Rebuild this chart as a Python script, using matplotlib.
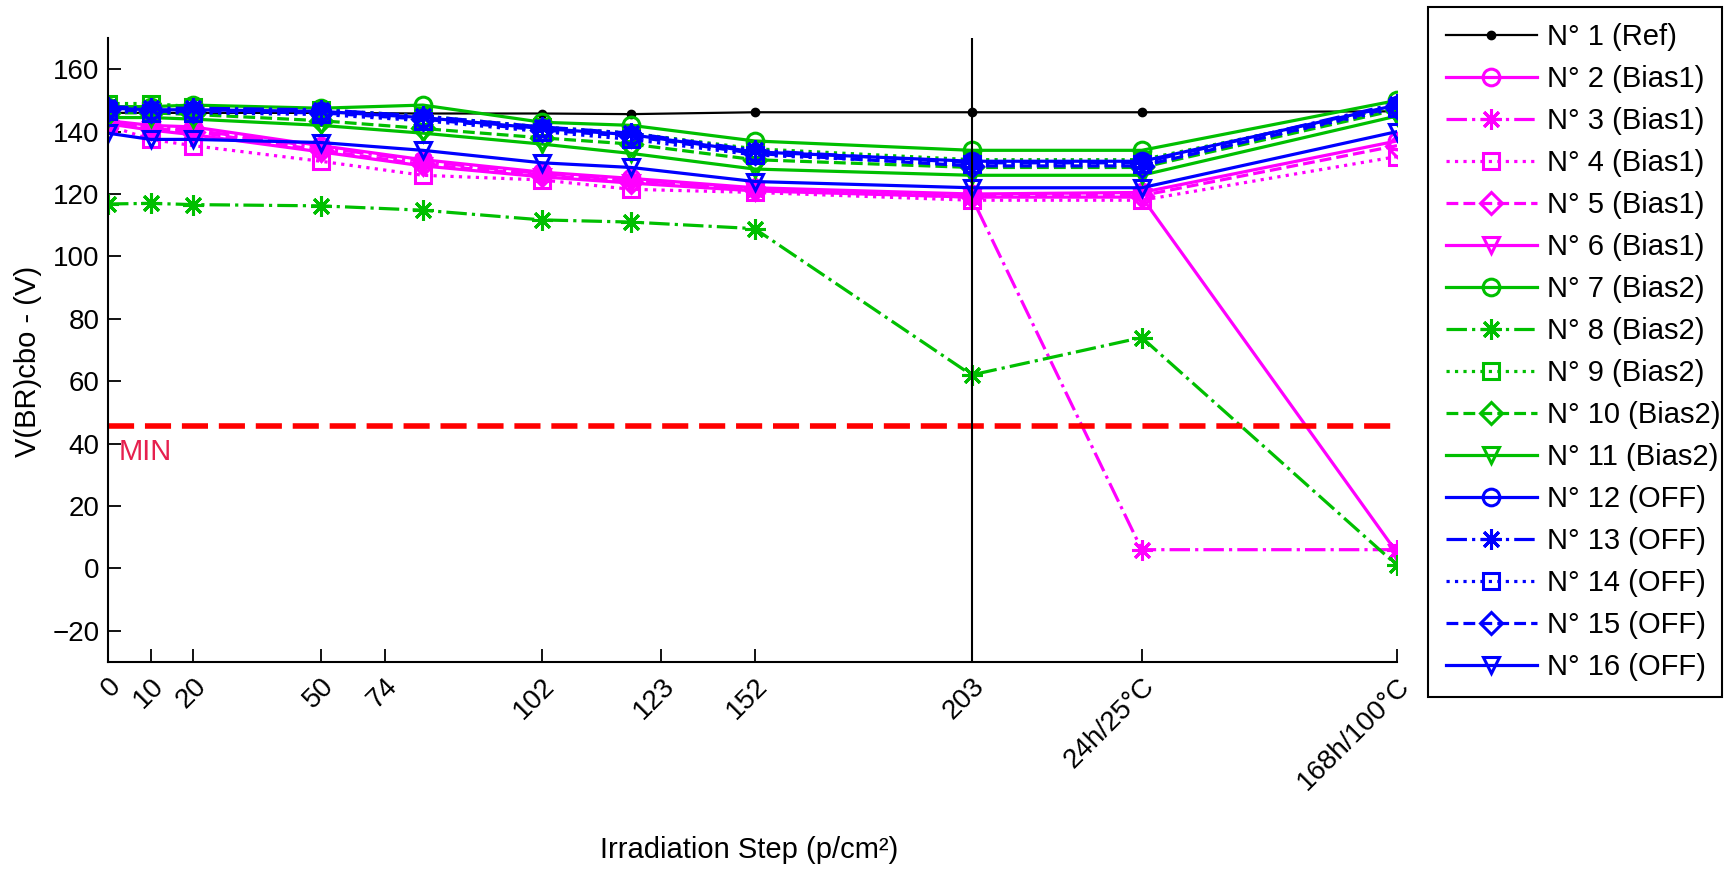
import matplotlib
matplotlib.use("Agg")
import matplotlib.pyplot as plt
from matplotlib.patches import Rectangle

plt.rcParams['font.family'] = ['Liberation Sans', 'DejaVu Sans']

# ---------------- data ----------------
step_labels = ['0', '10', '20', '50', '74', '102', '123', '152', '203',
               '24h/25°C', '168h/100°C']
x_pos = [0, 10, 20, 50, 74, 102, 123, 152, 203, 243, 303]      # where points sit
tick_pos = [0, 10, 20, 50, 65, 102, 130, 152, 203, 243, 303]   # where labels sit

n01 = [146, 146, 146, 146, 145.8, 145.8, 145.6, 146.2, 146.2, 146.2, 146.5]
n02 = [143.5, 142, 141.5, 135.5, 131, 127, 125, 122, 120, 120.5, 137]
n03 = [143, 141.5, 140.5, 135, 130.5, 126.5, 124.5, 121.5, 119, 6, 6]
n04 = [142, 137.5, 135.5, 130.5, 126, 124.5, 121.5, 120.5, 118, 118, 132]
n05 = [143, 141, 140, 134, 129.5, 126, 124, 121.5, 119.5, 119.5, 135.5]
n06 = [142.5, 140.5, 139, 133.5, 129, 125.5, 123.5, 121, 119, 119, 5]
n07 = [148, 148, 148.5, 147.5, 148.5, 143, 142, 137, 134, 134, 150]
n08 = [116.8, 117, 116.6, 116.2, 114.8, 111.7, 111.0, 108.9, 62, 74, 1]
n09 = [149, 149, 148, 147, 145, 141.5, 139.5, 134.5, 131, 131, 148]
n10 = [146, 146, 145.5, 143.5, 141, 138, 136, 131, 128.5, 128.5, 147]
n11 = [144.5, 144.5, 144, 142, 139.5, 136, 133, 128, 126, 126, 145]
n12 = [147.5, 147, 147, 146.5, 144.5, 141, 139, 133.5, 130.5, 130.5, 148.5]
n13 = [148, 147.5, 147.5, 147, 145, 141.5, 139.5, 134, 130, 130, 149]
n14 = [146.5, 146, 146, 145.5, 143.5, 140, 137.5, 132.5, 129.5, 129.5, 147.5]
n15 = [147, 146.5, 146.5, 146, 144, 140.5, 138.5, 133, 129, 129, 148]
n16 = [139.5, 137.5, 137.5, 136.5, 134, 130, 128.5, 124, 122, 122, 140]

labels = ['N° 1 (Ref)',
          'N° 2 (Bias1)', 'N° 3 (Bias1)', 'N° 4 (Bias1)', 'N° 5 (Bias1)', 'N° 6 (Bias1)',
          'N° 7 (Bias2)', 'N° 8 (Bias2)', 'N° 9 (Bias2)', 'N° 10 (Bias2)', 'N° 11 (Bias2)',
          'N° 12 (OFF)', 'N° 13 (OFF)', 'N° 14 (OFF)', 'N° 15 (OFF)', 'N° 16 (OFF)']

min_limit = 45.5
anneal_start = 203

# ---------------- styles ----------------
MAG = '#FF00FF'
GRN = '#00BF00'
BLU = '#0000FF'
STAR = (8, 2, 0)
group_styles = [('o', '-', 12), (STAR, '-.', 15), ('s', ':', 12),
                ('D', '--', 11), ('v', '-', 12)]

series = [n02, n03, n04, n05, n06, n07, n08, n09, n10, n11,
          n12, n13, n14, n15, n16]
colors = [MAG] * 5 + [GRN] * 5 + [BLU] * 5

W, H = 1728, 869
fig = plt.figure(figsize=(W / 100, H / 100), dpi=100)
ax = fig.add_axes([108 / W, 1 - 662 / H, (1397 - 108) / W, (662 - 38) / H])

handles = []
h, = ax.plot(x_pos, n01, color='black', lw=1.6, marker='.', markersize=12)
handles.append(h)
for i, (vals, col) in enumerate(zip(series, colors)):
    mk, ls, ms = group_styles[i % 5]
    h, = ax.plot(x_pos, vals, color=col, ls=ls, lw=2.3, marker=mk,
                 markersize=ms, markerfacecolor='none', markeredgewidth=2.2)
    handles.append(h)

ax.axhline(min_limit, color='red', lw=4, dashes=(4.7, 1.95))
ax.axvline(anneal_start, color='black', lw=1.5)
ax.text(2.6, 37.2, 'MIN', color='#E6204E', fontsize=21, va='center', ha='left')

ax.set_xlim(0, 303)
ax.set_ylim(-30, 170)
ax.set_yticks(range(-20, 161, 20))
ax.set_xticks(tick_pos)
ax.set_xticklabels(step_labels, rotation=45, ha='right', va='top',
                   rotation_mode='anchor')
ax.tick_params(direction='in', length=9.5, width=1.3, labelsize=20, colors='black')
ax.tick_params(axis='x', pad=8)
ax.tick_params(axis='y', pad=6)
for s in ['top', 'right']:
    ax.spines[s].set_visible(False)
for s in ['left', 'bottom']:
    ax.spines[s].set_linewidth(1.5)

ax.set_ylabel('V(BR)cbo - (V)', fontsize=21)
ax.yaxis.set_label_coords(-0.051, 0.481)
ax.set_xlabel('Irradiation Step (p/cm²)', fontsize=21)
ax.xaxis.set_label_coords(0.497, -0.279)

leg = ax.legend(handles, labels, loc='upper left',
                bbox_to_anchor=(1434 / W, 1 - 11 / H),
                bbox_transform=fig.transFigure, borderaxespad=0,
                frameon=False, fontsize=21, handlelength=3.1,
                handletextpad=0.35, borderpad=0.42, labelspacing=0.48,
                numpoints=1)

# legend frame (MATLAB-style, tighter on the right than matplotlib allows)
fig.patches.append(Rectangle((1428 / W, 1 - 697 / H), (1722 - 1428) / W,
                             (697 - 7) / H, transform=fig.transFigure,
                             fill=False, edgecolor='black', lw=1.5))

fig.savefig('out.png', dpi=100)
